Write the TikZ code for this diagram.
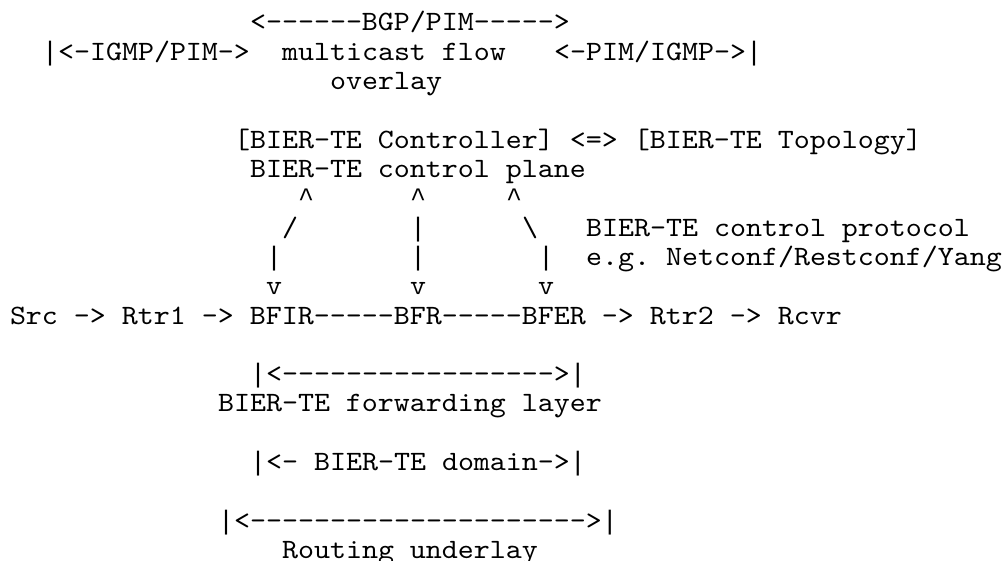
\documentclass[tikz,border=0pt]{standalone}
\usepackage{fontspec}
\newfontfamily\asciifont{lmmono10-regular.otf}[FakeStretch=1.0884]
\newfontfamily\libmono{Liberation Mono}
% bars and carets as Courier-like glyphs, same 16pt cell
\newcommand\vbar{{\libmono\fontsize{26.67pt}{29.3pt}\selectfont|}}
\newcommand\caret{{\libmono\fontsize{26.67pt}{29.3pt}\selectfont\textasciicircum}}
\tikzset{
  asc/.style={anchor=base west, inner sep=0pt, outer sep=0pt,
              font=\asciifont\fontsize{28pt}{29.3pt}\selectfont\frenchspacing},
}

\begin{document}
\begin{tikzpicture}[x=16pt, y=-29.3pt]
    \useasboundingbox (-10pt,1.7pt) rectangle (993pt,-559.3pt);
    % overlay
    \node[asc] (bgp) at (15,1) {<------BGP/PIM----->};
    \node[asc] (igmpl) at (2,2) {\vbar<-IGMP/PIM->};
    \node[asc] (flow) at (17,2) {multicast flow};
    \node[asc] (igmpr) at (34,2) {<-PIM/IGMP->\vbar};
    \node[asc] (ovl) at (20,3) {overlay};
    % control plane
    \node[asc] (ctrl) at (14,5) {[BIER-TE Controller] <=> [BIER-TE Topology]};
    \node[asc] (cplane) at (15,6) {BIER-TE control plane};
    \node[asc] (up1) at (18,7) {\caret};
    \node[asc] (up2) at (25,7) {\caret};
    \node[asc] (up3) at (31,7) {\caret};
    \node[asc] (sl1) at (17,8) {/};
    \node[asc] (sl2) at (25,8) {\vbar};
    \node[asc] (sl3) at (32,8) {\textbackslash};
    \node[asc] (proto) at (36,8) {BIER-TE control protocol};
    \node[asc] (bar1) at (16,9) {\vbar};
    \node[asc] (bar2) at (25,9) {\vbar};
    \node[asc] (bar3) at (33,9) {\vbar};
    \node[asc] (eg) at (36,9) {e.g. Netconf/Restconf/Yang};
    \node[asc] (dn1) at (16,10) {v};
    \node[asc] (dn2) at (25,10) {v};
    \node[asc] (dn3) at (33,10) {v};
    % data path
    \node[asc] (path) at (0,11) {Src -> Rtr1 -> BFIR-----BFR-----BFER -> Rtr2 -> Rcvr};
    % layers
    \node[asc] (fwdspan) at (15,13) {\vbar<----------------->\vbar};
    \node[asc] (fwd) at (13,14) {BIER-TE forwarding layer};
    \node[asc] (dom) at (15,16) {\vbar<- BIER-TE domain->\vbar};
    \node[asc] (undspan) at (13,18) {\vbar<--------------------->\vbar};
    \node[asc] (und) at (17,19) {Routing underlay};
\end{tikzpicture}
\end{document}
